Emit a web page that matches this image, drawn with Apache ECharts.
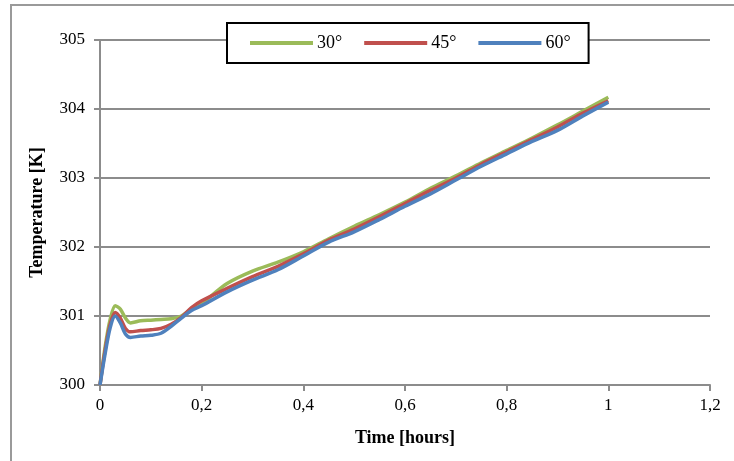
<!DOCTYPE html>
<html>
<head>
<meta charset="utf-8">
<script src="https://cdn.jsdelivr.net/npm/echarts@6/dist/echarts.min.js"></script>
<style>
html, body { margin: 0; padding: 0; background: #fff; }
#chart { width: 734px; height: 461px; }
</style>
</head>
<body>
<div id="chart"></div>
<script>
// time [hours]
var time = [0, 0.01, 0.02, 0.03, 0.04, 0.05, 0.06, 0.08, 0.1, 0.12, 0.14, 0.16, 0.18, 0.2,
    0.25, 0.3, 0.35, 0.4, 0.45, 0.5, 0.55, 0.6, 0.65, 0.7, 0.75, 0.8, 0.85, 0.9, 0.95, 1.0];
// temperature [K]
var t30 = [300, 300.55, 300.95, 301.15, 301.1, 300.97, 300.9, 300.93, 300.94, 300.95, 300.96, 301.0, 301.1, 301.18,
    301.47, 301.65, 301.78, 301.93, 302.12, 302.3, 302.47, 302.65, 302.85, 303.03, 303.22, 303.4, 303.58, 303.77, 303.97, 304.17];
var t45 = [300, 300.5, 300.88, 301.05, 300.97, 300.82, 300.77, 300.79, 300.8, 300.82, 300.88, 300.98, 301.12, 301.22,
    301.4, 301.57, 301.72, 301.9, 302.1, 302.26, 302.44, 302.63, 302.82, 303.0, 303.2, 303.38, 303.56, 303.74, 303.94, 304.12];
var t60 = [300, 300.45, 300.83, 301.0, 300.9, 300.74, 300.69, 300.71, 300.72, 300.75, 300.85, 300.97, 301.08, 301.15,
    301.35, 301.52, 301.67, 301.87, 302.07, 302.22, 302.4, 302.59, 302.77, 302.97, 303.17, 303.35, 303.53, 303.69, 303.9, 304.1];
var names = ['30°', '45°', '60°'];
var colors = ['#9bbb59', '#c0504d', '#4f81bd'];

function pairs(ys) {
    return time.map(function (t, i) { return [t, ys[i]]; });
}

var font = 'Liberation Serif';
var myChart = echarts.init(document.getElementById('chart'));

var series = [t30, t45, t60].map(function (ys, i) {
    return {
        name: names[i],
        type: 'line',
        data: pairs(ys),
        smooth: 0.3,
        symbol: 'none',
        lineStyle: { color: colors[i], width: 3.5 },
        itemStyle: { color: colors[i] }
    };
});

var option = {
    animation: false,
    graphic: [{
        type: 'rect',
        shape: { x: 11, y: 5, width: 800, height: 600 },
        style: { fill: 'none', stroke: '#9a9a9a', lineWidth: 2 },
        silent: true
    }],
    grid: { left: 100, right: 24, top: 40, bottom: 76 },
    legend: {
        data: names,
        left: 227,
        top: 23,
        padding: [11, 18, 11, 23],
        borderColor: '#000',
        borderWidth: 2,
        backgroundColor: '#fff',
        icon: 'rect',
        itemWidth: 63,
        itemHeight: 4,
        itemGap: 22,
        textStyle: { fontFamily: font, fontSize: 18, color: '#000', padding: [0, 0, 0, -1] }
    },
    xAxis: {
        type: 'value',
        min: 0,
        max: 1.2,
        interval: 0.2,
        name: 'Time [hours]',
        nameLocation: 'middle',
        nameGap: 44,
        nameTextStyle: { fontFamily: font, fontSize: 18, fontWeight: 'bold', color: '#000' },
        axisLine: { show: true, lineStyle: { color: '#8c8c8c', width: 2 } },
        axisTick: { show: true, length: 6, lineStyle: { color: '#8c8c8c', width: 2 } },
        axisLabel: {
            margin: 12,
            fontFamily: font, fontSize: 17, color: '#000',
            formatter: function (v) { return String(+v.toFixed(1)).replace('.', ','); }
        },
        splitLine: { show: false }
    },
    yAxis: {
        type: 'value',
        min: 300,
        max: 305,
        interval: 1,
        name: 'Temperature [K]',
        nameLocation: 'middle',
        nameGap: 54,
        nameTextStyle: { fontFamily: font, fontSize: 18, fontWeight: 'bold', color: '#000' },
        axisLine: { show: true, lineStyle: { color: '#8c8c8c', width: 2 } },
        axisTick: { show: true, length: 6, lineStyle: { color: '#8c8c8c', width: 2 } },
        axisLabel: { margin: 15, fontFamily: font, fontSize: 17, color: '#000' },
        splitLine: { show: true, lineStyle: { color: '#8c8c8c', width: 2 } }
    },
    series: series
};
myChart.setOption(option);
</script>
</body>
</html>
